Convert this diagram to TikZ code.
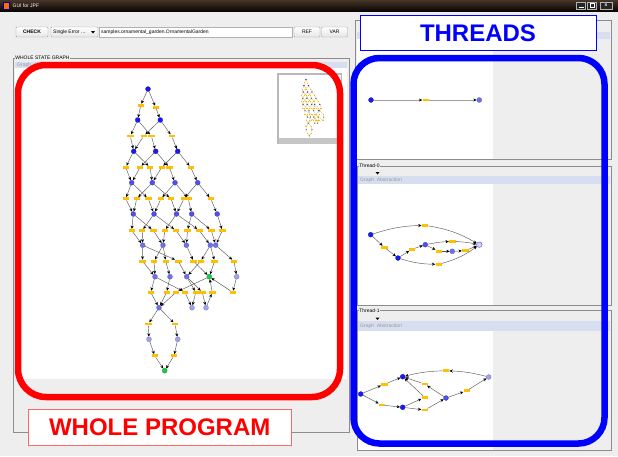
\documentclass[tikz,border=0pt]{standalone}
\usepackage{fontspec}
\setmainfont{Liberation Sans}
\usetikzlibrary{arrows.meta}

\definecolor{guibg}{RGB}{238,238,238}
\definecolor{framegray}{RGB}{140,140,140}
\definecolor{titletop}{RGB}{70,52,40}
\definecolor{titlebot}{RGB}{10,6,4}
\definecolor{barblue}{RGB}{214,222,240}
\definecolor{edgegray}{RGB}{90,90,90}
\definecolor{labelyel}{RGB}{255,192,0}
\definecolor{nodeA}{RGB}{25,25,240}
\definecolor{nodeB}{RGB}{80,80,236}
\definecolor{nodeC}{RGB}{112,112,238}
\definecolor{nodeD}{RGB}{160,160,242}
\definecolor{nodeG}{RGB}{20,205,70}
\definecolor{markred}{RGB}{255,0,0}
\definecolor{markblue}{RGB}{0,0,255}

\newcommand\guifont{\fontsize{5}{6}\selectfont}
\newcommand\bigmark{\bfseries\fontsize{24}{24}\selectfont}

% transition through an intermediate label node
\newcommand\tr[3]{\draw[gedge] (#1) -- (#2); \draw[gedge] (#2) -- (#3);}

% the complete state graph
\newcommand\stategraph{%
  % states
  \node[bn=nodeA] (R)  at (148,89) {};
  \node[bn=nodeA] (A1) at (137.7,120) {};
  \node[bn=nodeA] (A2) at (160.3,120) {};
  \node[bn=nodeA] (B1) at (133.7,151.3) {};
  \node[bn=nodeA] (B2) at (155.7,151.3) {};
  \node[bn=nodeA] (B3) at (177.7,151.3) {};
  \node[bn=nodeB] (C1) at (131.7,182.7) {};
  \node[bn=nodeB] (C2) at (152.3,182.7) {};
  \node[bn=nodeB] (C3) at (175,182.7) {};
  \node[bn=nodeB] (C4) at (197.7,182.7) {};
  \node[bn=nodeB] (D1) at (133.3,214) {};
  \node[bn=nodeB] (D2) at (154,214) {};
  \node[bn=nodeB] (D3) at (176.5,214) {};
  \node[bn=nodeB] (D4) at (191.7,214) {};
  \node[bn=nodeB] (D5) at (217.2,214) {};
  \node[bn=nodeC] (E1) at (142.7,245.2) {};
  \node[bn=nodeC] (E2) at (163,245.2) {};
  \node[bn=nodeC] (E3) at (186.4,245.2) {};
  \node[bn=nodeC] (E4) at (210.3,245.2) {};
  \node[bn=nodeC] (E5) at (215.7,245.2) {};
  \node[bn=nodeC] (F1) at (155,276.7) {};
  \node[bn=nodeC] (F2) at (170,276.7) {};
  \node[bn=nodeC] (F3) at (186.7,276.7) {};
  \node[bn=nodeG] (G)  at (209.3,276.7) {};
  \node[bn=nodeD] (F5) at (236.7,276.7) {};
  \node[bn=nodeC] (H1) at (159,307.7) {};
  \node[bn=nodeD] (H2) at (192,307.7) {};
  \node[bn=nodeD] (H3) at (206,307.7) {};
  \node[bn=nodeD] (I1) at (149,339.3) {};
  \node[bn=nodeD] (I2) at (177.7,339.3) {};
  \node[bn=nodeG] (Z)  at (164.7,370.7) {};
  % transition labels
  \node[yl] (y1a) at (140.7,105.3) {};
  \node[yl] (y1b) at (155.7,107.3) {};
  \foreach \n/\x in {y2a/130.3,y2b/143.7,y2c/151.3,y2d/171.7} {\node[yl] (\n) at (\x,136) {};}
  \foreach \n/\x in {y3a/125.7,y3b/140,y3c/150,y3d/161.7,y3e/169.3,y3f/190.7} {\node[yl] (\n) at (\x,167.3) {};}
  \foreach \n/\x in {y4a/125.7,y4b/136.7,y4c/148.3,y4d/161,y4e/171,y4f/184,y4g/188.3,y4h/210.7} {\node[yl] (\n) at (\x,198.7) {};}
  \foreach \n/\x in {y5a/131.7,y5b/142.2,y5c/153.3,y5d/164.8,y5e/176,y5f/187.5,y5g/199.3,y5h/211.3,y5i/222.3} {\node[yl] (\n) at (\x,230.5) {};}
  \foreach \n/\x in {y6a/142.5,y6b/154,y6c/165.7,y6d/178.4,y6e/193.5,y6f/200.7,y6g/214.6,y6h/234} {\node[yl] (\n) at (\x,261.2) {};}
  \foreach \n/\x in {y7a/150.7,y7b/166.7,y7c/176,y7d/185,y7e/195.7,y7f/202.3,y7g/212.3,y7h/232.7} {\node[yl] (\n) at (\x,292.3) {};}
  \foreach \n/\x in {y8a/148.3,y8b/175} {\node[yl] (\n) at (\x,324) {};}
  \foreach \n/\x in {y9a/154.7,y9b/174} {\node[yl] (\n) at (\x,355.7) {};}
  % transitions
  \tr{R}{y1a}{A1} \tr{R}{y1b}{A2}
  \tr{A1}{y2a}{B1} \tr{A2}{y2b}{B1} \tr{A1}{y2c}{B2} \tr{A2}{y2d}{B3}
  \tr{B1}{y3a}{C1} \tr{B2}{y3b}{C1} \tr{B1}{y3c}{C2} \tr{B3}{y3d}{C2} \tr{B2}{y3e}{C3} \tr{B3}{y3f}{C4}
  \tr{C1}{y4a}{D1} \tr{C2}{y4b}{D1} \tr{C1}{y4c}{D2} \tr{C3}{y4d}{D2} \tr{C2}{y4e}{D3} \tr{C4}{y4f}{D3} \tr{C3}{y4g}{D4} \tr{C4}{y4h}{D5}
  \tr{D1}{y5a}{E1} \tr{D2}{y5b}{E1} \tr{D1}{y5c}{E2} \tr{D3}{y5d}{E2} \tr{D2}{y5e}{E3} \tr{D4}{y5f}{E3} \tr{D3}{y5g}{E4} \tr{D4}{y5h}{E5} \tr{D5}{y5i}{E5}
  \tr{E1}{y6a}{F1} \tr{E2}{y6b}{F1} \tr{E2}{y6c}{F2} \tr{E1}{y6d}{F3} \tr{E3}{y6e}{G} \tr{E4}{y6f}{F3} \tr{E4}{y6g}{G} \tr{E5}{y6h}{F5}
  \tr{F1}{y7a}{H1} \tr{F2}{y7b}{H1} \tr{G}{y7c}{H1} \tr{F1}{y7d}{H2} \tr{F3}{y7e}{H2} \tr{F3}{y7f}{H3} \tr{H3}{y7g}{G} \tr{F5}{y7h}{G}
  \tr{H1}{y8a}{I1} \tr{H1}{y8b}{I2} \tr{I1}{y9a}{Z} \tr{I2}{y9b}{Z}
}

\begin{document}
\begin{tikzpicture}[x=1pt,y=-1pt,
  bn/.style={circle, inner sep=0pt, minimum size=5pt, fill=#1, draw=#1!70!black, line width=0.2pt},
  yl/.style={rectangle, inner sep=0pt, minimum width=6.4pt, minimum height=2.8pt, fill=labelyel},
  gedge/.style={draw=edgegray, line width=0.45pt, -{Stealth[length=3.4pt,width=3pt,color=black]}},
  tedge/.style={draw=gray!75, line width=0.6pt, -{Stealth[length=3.4pt,width=3pt,color=black]}},
  frame/.style={draw=framegray, line width=0.5pt},
  frametitle/.style={fill=guibg, inner sep=0.6pt, anchor=west, font=\guifont},
  btn/.style={draw=gray!70, top color=white, bottom color=gray!20, rounded corners=1pt, inner sep=0pt, minimum height=10pt, font=\guifont},
  bar/.style={fill=barblue},
  bartext/.style={anchor=west, text=gray!80, font=\guifont, inner sep=0pt},
  drop/.style={fill=black},
]
\useasboundingbox (0,0) rectangle (618,456);
\fill[guibg] (0,0) rectangle (618,456);

% ---------- window title bar ----------
\shade[top color=titletop, bottom color=titlebot] (0,0) rectangle (618,11);
\node[fill=orange!85!red, draw=blue!60!black, line width=0.3pt, minimum size=6.5pt, inner sep=0pt] (icon) at (6,5.5) {};
\node[anchor=west, text=white, font=\guifont, inner sep=0pt] (wtitle) at (12.5,5.5) {GUI for JPF};
\node[draw=gray!60, fill=gray!30!black, minimum width=9pt, minimum height=7pt, inner sep=0pt] (wmin) at (581,5.5) {};
\draw[white, line width=0.8pt] (578.5,7.5) -- (583.5,7.5);
\node[draw=gray!60, fill=gray!30!black, minimum width=9pt, minimum height=7pt, inner sep=0pt] (wmax) at (592,5.5) {};
\draw[white, line width=0.6pt] (589.8,3.6) rectangle (594.2,7.4);
\node[draw=gray!60, fill=gray!30!black, minimum width=12pt, minimum height=7pt, inner sep=0pt, text=white, font=\guifont\bfseries] (wclose) at (606,5.5) {x};

% ---------- toolbar ----------
\node[btn, minimum width=32pt, font=\guifont\bfseries] (check) at (32,32) {CHECK};
\node[btn, minimum width=47pt] (combo) at (74.5,32) {};
\node[anchor=west, inner sep=0pt, font=\guifont] (combotxt) at (53,32) {Single Error \ldots};
\fill[drop] (91,31) -- (95,31) -- (93,33.5) -- cycle;
\node[draw=gray!60, fill=white, minimum width=193pt, minimum height=10pt, inner sep=0pt] (field) at (195.5,32) {};
\node[anchor=west, inner sep=0pt, font=\guifont] (fieldtxt) at (101,32) {samples.ornamental\_garden.OrnamentalGarden};
\node[btn, minimum width=26pt] (ref) at (307,32) {REF};
\node[btn, minimum width=26pt] (var) at (334.5,32) {VAR};

% ---------- whole state graph panel ----------
\draw[frame] (13,58) rectangle (349,432);
\node[frametitle] (wsg) at (14.5,58) {WHOLE STATE GRAPH};
\fill[bar] (15,61.5) rectangle (347,68);
\node[bartext] (wsgbar) at (17,64.8) {Graph\ \ Abstraction};
\fill[white] (15,68) rectangle (347,379);

\begin{scope}
  \stategraph
\end{scope}

% overview thumbnail
\fill[gray!55] (276.7,73) rectangle (342,143.5);
\fill[white] (278.5,75) rectangle (340.5,137.5);
\fill[gray!45] (278.5,137.5) rectangle (340.5,143.5);
\begin{scope}[shift={(276.4,61.7)}, scale=0.2, transform shape, name prefix=th-,
  gedge/.style={draw=labelyel!70!gray, line width=0.15pt}]
  \stategraph
\end{scope}

% ---------- thread panels ----------
% overall program thread
\draw[frame] (355,20) rectangle (611,159.5);
\fill[bar] (357,32.3) rectangle (610,39);
\fill[white] (357,39) rectangle (493,159);
% Thread-0
\draw[frame] (357,166) rectangle (611,305);
\node[frametitle] (th0) at (358.5,166) {Thread-0};
\fill[drop] (375.5,172) -- (379.5,172) -- (377.5,174.5) -- cycle;
\fill[bar] (358,176) rectangle (610,184);
\node[bartext] (th0bar) at (360,180) {Graph\ \ Abstraction};
\fill[white] (358,184) rectangle (493,304.5);
% Thread-1
\draw[frame] (357,310.7) rectangle (611,450.7);
\node[frametitle] (th1) at (358.5,310.7) {Thread-1};
\fill[drop] (375.5,317.5) -- (379.5,317.5) -- (377.5,320) -- cycle;
\fill[bar] (358,320.7) rectangle (610,330.7);
\node[bartext] (th1bar) at (360,325.7) {Graph\ \ Abstraction};
\fill[white] (358,330.7) rectangle (493,450.2);

% main thread graph
\node[bn=nodeA] (p0) at (371,100) {};
\node[yl] (p1) at (425.7,100) {};
\node[bn=nodeC] (p2) at (479.3,100) {};
\draw[tedge] (p0) -- (p1);
\draw[tedge] (p1) -- (p2);

% Thread-0 graph
\node[bn=nodeA] (n0) at (370.7,234.7) {};
\node[bn=nodeA] (n1) at (398,258) {};
\node[bn=nodeB] (n2) at (425.3,244.7) {};
\node[bn=nodeC] (n3) at (452.3,251.3) {};
\node[circle, inner sep=0pt, minimum size=5.5pt, fill=nodeD!45, draw=nodeB, line width=0.4pt] (n4) at (479.3,244.7) {};
\node[yl] (q1) at (425,225.3) {};
\node[yl] (q2) at (384.3,247.3) {};
\node[yl] (q3) at (411.7,249.3) {};
\node[yl] (q4) at (452.3,241.3) {};
\node[yl] (q5) at (438.7,251.3) {};
\node[yl] (q6) at (465.3,250.7) {};
\node[yl] (q7) at (438.7,264.3) {};
\draw[gedge] (n0) to[bend left=8] (q1);
\draw[gedge] (q1) to[bend left=10] (n4);
\tr{n0}{q2}{n1}
\tr{n1}{q3}{n2}
\draw[gedge] (n2) to[bend left=4] (q4);
\draw[gedge] (q4) to[bend left=4] (n4);
\tr{n2}{q5}{n3}
\tr{n3}{q6}{n4}
\draw[gedge] (n1) to[bend right=8] (q7);
\draw[gedge] (q7) to[bend right=10] (n4);

% Thread-1 graph
\node[bn=nodeA] (m0) at (360.7,394) {};
\node[bn=nodeA] (m1) at (402.7,376.7) {};
\node[bn=nodeA] (m2) at (402.7,407.3) {};
\node[bn=nodeB] (m3) at (446,398) {};
\node[bn=nodeD] (m4) at (488.7,377) {};
\node[yl] (r1) at (384.3,384.3) {};
\node[yl] (r2) at (381.7,405) {};
\node[yl] (r3) at (424.7,397.3) {};
\node[yl] (r4) at (424.7,384) {};
\node[yl] (r5) at (424.7,410) {};
\node[yl] (r6) at (466.7,390.7) {};
\node[yl] (r7) at (446,370.7) {};
\tr{m0}{r1}{m1}
\tr{m0}{r2}{m2}
\tr{m2}{r3}{m1}
\tr{m3}{r4}{m1}
\tr{m2}{r5}{m3}
\tr{m3}{r6}{m4}
\draw[gedge] (m4) to[bend right=6] (r7);
\draw[gedge] (r7) to[bend right=6] (m1);

% ---------- highlight frames and captions ----------
\draw[markred, line width=6.5pt, rounded corners=28pt] (18,65) rectangle (340,397);
\node[draw=markred!60, fill=white, line width=0.8pt, minimum width=262.7pt, minimum height=35.7pt,
      inner sep=0pt, text=markred, font=\bigmark] (wholeprog) at (159.7,427.2) {WHOLE PROGRAM};

\draw[markblue, line width=6.5pt, rounded corners=26pt] (353.5,58) rectangle (604.5,443.5);
\node[draw=markblue, fill=white, line width=0.8pt, minimum width=236pt, minimum height=35.7pt,
      inner sep=0pt, text=markblue, font=\bigmark] (threads) at (478,32.9) {THREADS};
\end{tikzpicture}
\end{document}
